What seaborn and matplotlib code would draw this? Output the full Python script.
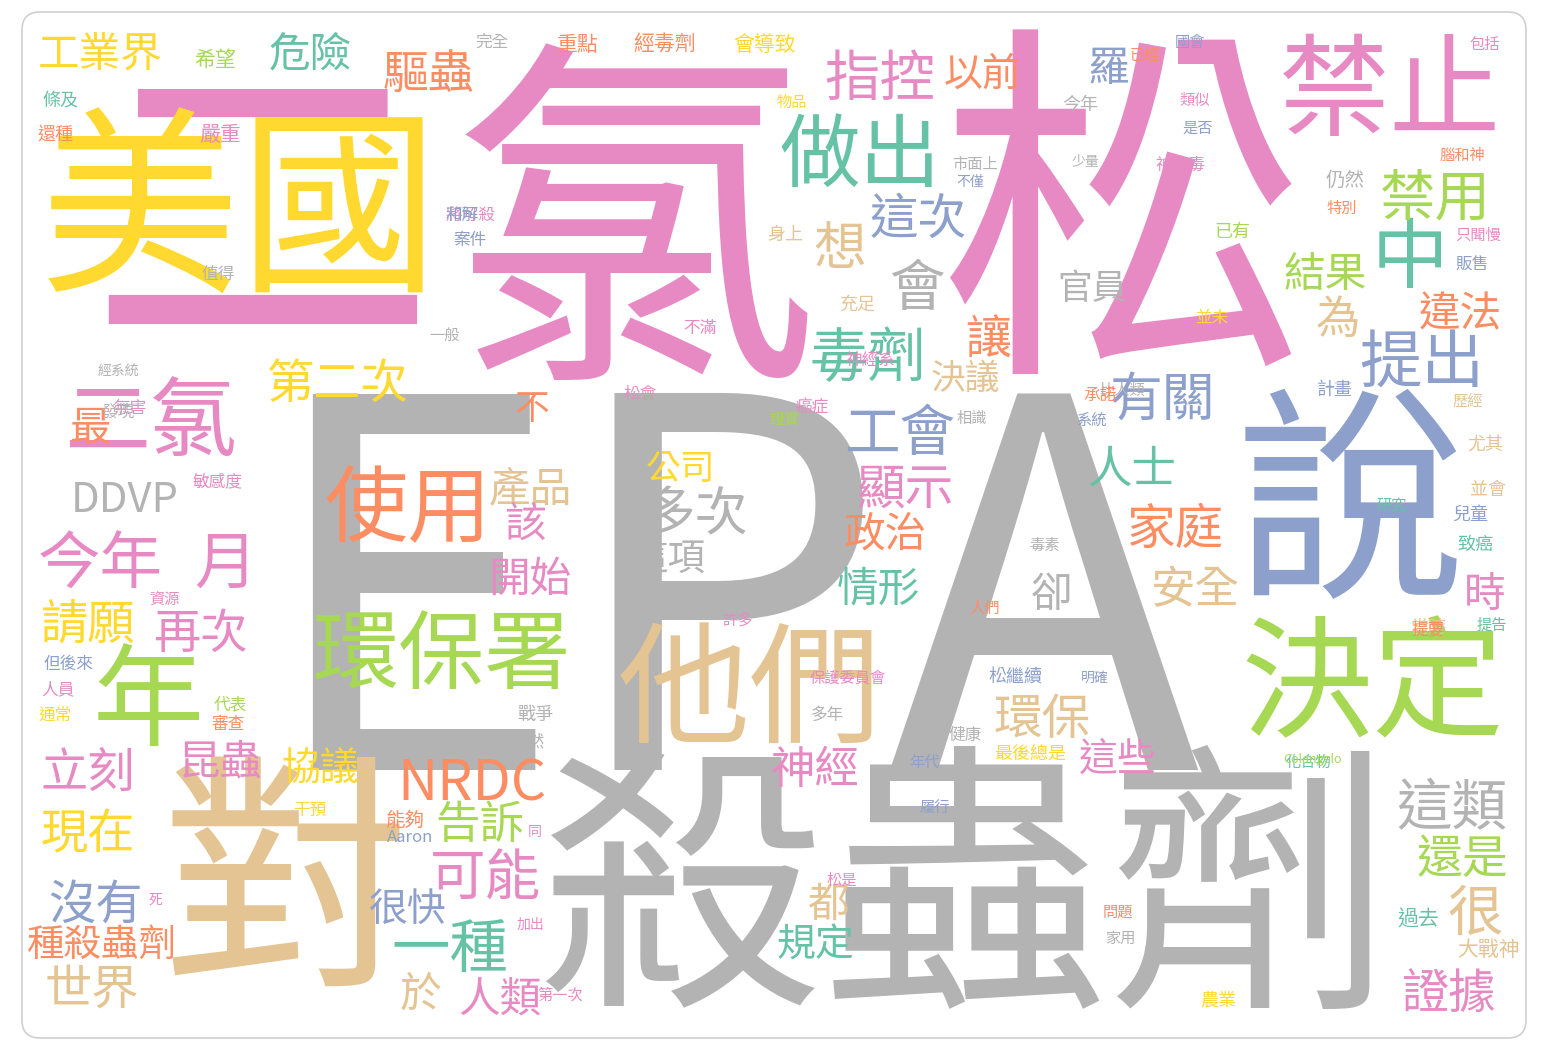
import matplotlib
matplotlib.use("Agg")
import matplotlib.pyplot as plt
import seaborn as sns
from matplotlib.patches import FancyBboxPatch

sns.set_theme(style="white")
plt.rcParams['font.family'] = ['Noto Sans CJK TC', 'DejaVu Sans']

pal = sns.color_palette("Set2", 8).as_hex()
# Set2: 0 teal,1 orange,2 blue,3 pink,4 green,5 yellow,6 tan,7 gray
words = ["二","EPA","氯","松","美國","殺蟲劑","對","說","禁止","做出","指控","決定","他們","環保署","使用",
         "二氯","年","今年","月","DDVP","第二次","毒劑","工會","中","禁用","提出","違法","結果","為","有關",
         "人士","家庭","安全","時","這類","還是","很","證據","這次","想","會","讓","決議","以前","羅","官員",
         "顯示","政治","情形","多次","公司","這項","產品","該","開始","不","再次","請願","立刻","昆蟲","協議",
         "現在","沒有","種殺蟲劑","世界","NRDC","告訴","可能","很快","一種","於","人類","環保","神經","這些",
         "都","規定","卻","工業界","危險","驅蟲","最","希望","完全","重點","經毒劑","會導致","條及","還種","嚴重",
         "將可殺","和解","案件","值得","統高","無害","發現","敏感度","資源","但後來","人員","通常","代表","審查",
         "干預","能夠","Aaron","戰爭","天然","多年","健康","年代","最後總是","化合物","Colangelo","農業","大戰神",
         "過去","家用","問題","第一次","身上","充足","神經系","癌症","相識","系統","比人類","計畫","歷經","尤其",
         "並會","研究","兒童","致癌","提告","當時","提要","毒素","人們","許多","保護委員會","松繼續","明確",
         "仍然","特別","只聞慢","販售","腦和神","已有","少量","神經毒","類似","是否","今年","包括","國會","已經",
         "物品","市面上","不僅","不滿","並未","承諾","經系統","一般","證實","松會","履行","松是","同","加出","死"]
sizes = [250,370,262,270,144,205,180,165,80,58,40,95,95,62,60,
         62,80,45,45,30,34,42,40,55,40,45,30,30,32,38,
         32,35,32,30,40,33,40,34,35,38,40,33,25,28,30,25,
         35,30,30,38,25,27,30,30,30,25,34,34,34,30,28,
         34,34,27,34,40,32,40,28,42,30,30,35,32,28,
         30,28,30,30,30,33,30,15,12,15,15,15,13,13,15,
         12,12,12,12,12,12,12,12,11,12,12,12,12,12,
         12,14,12,13,12,12,12,11,13,11,9,13,15,
         15,11,11,11,13,13,12,12,11,11,11,13,11,13,
         13,11,13,13,11,13,12,11,11,11,11,13,10,
         14,11,11,12,11,13,10,12,11,11,13,11,11,11,
         11,11,10,12,12,12,10,11,11,12,11,11,10,10,10]
colors = [3,7,3,3,5,7,6,2,3,0,3,4,6,4,1,
          3,4,3,3,7,5,0,2,0,4,2,1,4,6,2,
          0,1,6,3,7,4,6,3,2,6,7,1,6,1,2,7,
          3,1,0,7,5,7,6,3,3,1,3,5,3,3,5,
          5,2,1,6,1,4,3,2,0,6,3,6,3,3,
          6,0,7,5,0,1,1,4,7,1,1,5,0,1,3,
          3,2,2,7,3,3,7,3,3,2,3,5,4,1,
          5,1,2,7,7,7,7,2,5,0,4,5,6,
          0,7,1,3,6,6,3,3,7,2,7,2,6,6,
          6,0,2,0,0,6,1,7,1,3,3,2,2,
          7,1,3,2,1,4,7,3,3,2,7,3,2,1,
          5,7,2,3,5,1,7,7,4,3,2,3,3,3,3]
xs = [262,730,635,1125,240,965,285,1350,1390,860,880,1372,750,442,408,
      150,148,100,225,125,338,868,900,1410,1435,1422,1460,1325,1338,1162,
      1132,1175,1195,1485,1452,1462,1475,1448,918,840,918,988,965,983,1108,1092,
      905,885,878,695,680,668,530,525,530,532,200,88,88,220,320,
      88,95,102,92,472,480,485,408,450,420,500,1042,815,1118,
      828,815,1052,100,310,428,90,215,492,578,665,765,60,55,220,
      470,462,470,218,138,130,118,218,165,68,58,55,230,228,
      310,405,410,535,528,828,965,925,1030,1308,1312,1218,1488,
      1418,1120,1118,560,785,858,870,812,972,1092,1122,1335,1468,1485,
      1488,1392,1470,1475,1492,1428,1428,1045,985,738,848,1015,1095,
      1345,1342,1478,1472,1462,1232,1085,1180,1195,1198,1080,1485,1190,1145,
      792,975,970,700,1212,1100,118,445,785,640,935,842,535,530,155]
ys = [232,625,248,238,220,905,895,515,95,158,80,690,695,658,510,
      425,705,565,565,500,385,360,435,260,200,365,315,275,320,400,
      470,530,590,595,810,860,915,995,220,250,290,340,380,75,70,290,
      490,535,590,515,470,560,490,525,580,410,635,625,775,763,770,
      835,905,945,990,785,825,880,910,950,995,1000,720,770,760,
      905,945,595,55,55,75,430,60,42,45,45,45,100,135,135,
      215,215,240,275,310,408,412,482,600,665,690,715,705,725,
      810,820,838,715,742,715,735,762,755,762,760,1000,950,
      920,938,912,995,235,305,360,408,418,420,390,390,402,445,
      490,505,515,545,625,628,630,545,608,620,678,678,678,
      180,208,235,265,155,232,162,165,100,128,105,45,42,55,
      102,165,182,328,318,395,372,335,420,395,808,880,832,925,900]

fig = plt.figure(figsize=(15.48, 10.52), dpi=100)
ax = fig.add_axes([0, 0, 1, 1])
ax.set_xlim(0, 1548)
ax.set_ylim(1052, 0)
ax.axis("off")
ax.add_patch(FancyBboxPatch((22, 12), 1504, 1026, boxstyle="round,pad=0,rounding_size=18",
                            fc="white", ec="#d0d0d0", lw=1.2))
n = min(len(words), len(sizes), len(colors), len(xs), len(ys))
for i in range(n):
    ax.text(xs[i], ys[i], words[i], fontsize=sizes[i], color=pal[colors[i]],
            ha="center", va="center")
fig.savefig("out.png", dpi=100)
